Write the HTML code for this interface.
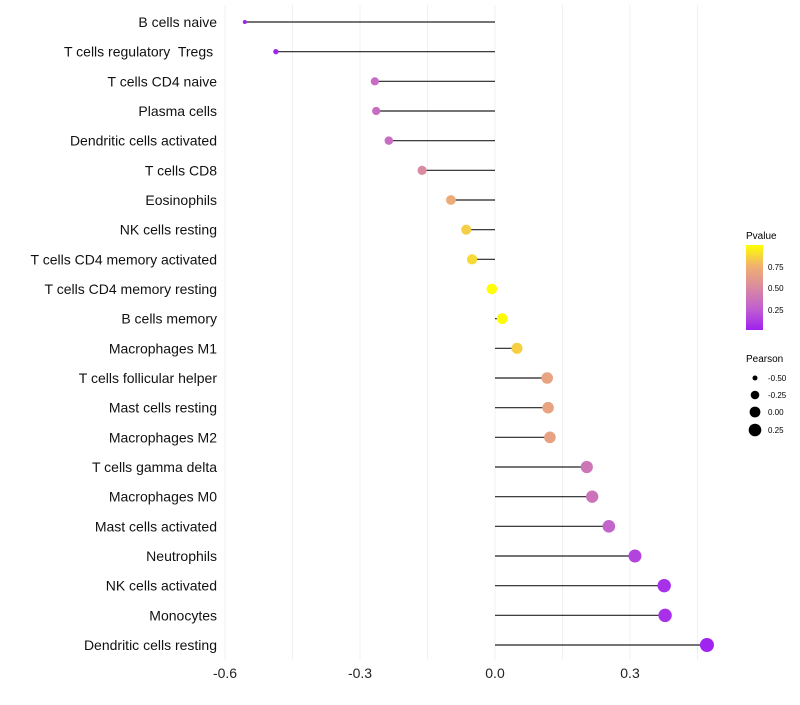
<!DOCTYPE html>
<html><head><meta charset="utf-8"><style>
body{margin:0;background:#fff;font-family:"Liberation Sans",sans-serif}
</style></head><body>
<svg id="chart" width="800" height="700" xmlns="http://www.w3.org/2000/svg">
<defs><linearGradient id="pg" x1="0" y1="1" x2="0" y2="0">
<stop offset="0" stop-color="#a020f0"/><stop offset="0.25" stop-color="#c060d0"/><stop offset="0.5" stop-color="#d98aa0"/><stop offset="0.75" stop-color="#f0b070"/><stop offset="1" stop-color="#ffff00"/></linearGradient></defs>
<g id="grid"></g><g id="marks"></g><g id="labels"></g>
<g>
<text x="746" y="239" font-size="10">Pvalue</text>
<rect x="746" y="245" width="17" height="85" fill="url(#pg)"/>
<text x="768" y="270" font-size="8">0.75</text>
<text x="768" y="291" font-size="8">0.50</text>
<text x="768" y="313" font-size="8">0.25</text>
</g>
<g>
<text x="746" y="362" font-size="10">Pearson</text>
<circle cx="755" cy="378" r="2.5"/><text x="768" y="381" font-size="8">-0.50</text>
<circle cx="755" cy="395" r="4.3"/><text x="768" y="398" font-size="8">-0.25</text>
<circle cx="755" cy="412" r="5.4"/><text x="768" y="415" font-size="8">0.00</text>
<circle cx="755" cy="430" r="6.3"/><text x="768" y="433" font-size="8">0.25</text>
</g>
</svg>
<script>
const categories=["B cells naive","T cells regulatory  Tregs ","T cells CD4 naive","Plasma cells","Dendritic cells activated","T cells CD8","Eosinophils","NK cells resting","T cells CD4 memory activated","T cells CD4 memory resting","B cells memory","Macrophages M1","T cells follicular helper","Mast cells resting","Macrophages M2","T cells gamma delta","Macrophages M0","Mast cells activated","Neutrophils","NK cells activated","Monocytes","Dendritic cells resting"];
const pearson=[-0.556,-0.487,-0.267,-0.264,-0.236,-0.162,-0.098,-0.064,-0.051,-0.007,0.016,0.049,0.116,0.118,0.122,0.204,0.216,0.253,0.311,0.376,0.378,0.471];
const pvalues=[0.02,0.03,0.32,0.32,0.33,0.5,0.7,0.82,0.86,0.97,0.96,0.83,0.65,0.65,0.64,0.38,0.36,0.28,0.15,0.08,0.08,0.03];
const xTicks=[-0.6,-0.3,0.0,0.3];
const xTickLabels=["-0.6","-0.3","0.0","0.3"];
const NS="http://www.w3.org/2000/svg";
const xs=v=>495+v*450;
const ys=i=>22+i*(623/21);
function mk(t,a,p){const e=document.createElementNS(NS,t);for(const k in a)e.setAttribute(k,a[k]);p.appendChild(e);return e;}
const stops=[[0,[160,32,240]],[0.25,[192,96,208]],[0.5,[217,138,160]],[0.75,[240,176,112]],[1,[255,255,0]]];
function col(p){p=Math.max(0,Math.min(1,(p-0.02)/0.95));for(let i=1;i<stops.length;i++){if(p<=stops[i][0]){const a=stops[i-1],b=stops[i],t=(p-a[0])/(b[0]-a[0]);return "rgb("+a[1].map((c,j)=>Math.round(c+(b[1][j]-c)*t)).join(",")+")";}}return "rgb(255,255,0)";}
const rs=v=>Math.sqrt(Math.max(1,28.4+43.9*v));
const grid=document.getElementById('grid'),marks=document.getElementById('marks'),labels=document.getElementById('labels');
[-0.6,-0.45,-0.3,-0.15,0,0.15,0.3,0.45].forEach(v=>{const l=mk('line',{x1:xs(v),x2:xs(v),y1:5,y2:660,stroke:'#f0f0f0','stroke-width':1},grid);

});
xTicks.forEach((v,i)=>{const t=mk('text',{x:xs(v),y:678,'font-size':14,'text-anchor':'middle',fill:'#222'},labels);t.textContent=xTickLabels[i];

});
categories.forEach((c,i)=>{const y=ys(i);
const t=mk('text',{x:217,y:y+5,'font-size':14,'text-anchor':'end',fill:'#111'},labels);t.textContent=c;
t.setAttribute('xml:space','preserve');t.style.whiteSpace='pre';


const l=mk('line',{x1:xs(0),x2:xs(pearson[i]),y1:y,y2:y,stroke:'#222','stroke-width':1.2},marks);


const ci=mk('circle',{cx:xs(pearson[i]),cy:y,r:rs(pearson[i]),fill:col(pvalues[i])},marks);

});
</script>
</body></html>
